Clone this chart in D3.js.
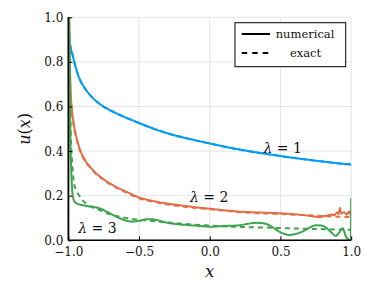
<!DOCTYPE html>
<html><head><meta charset="utf-8">
<script src="https://cdn.jsdelivr.net/npm/d3@7"></script>
<style>body{margin:0;background:#fff}svg{display:block}text{font-family:"DejaVu Serif",serif}</style>
</head><body><svg id="c" width="374" height="289"></svg>
<script>
const xTicks = [-1, -0.5, 0, 0.5, 1];
const yTicks = [0, 0.2, 0.4, 0.6, 0.8, 1.0];
const xTickLabels = ["\u22121.0", "\u22120.5", "0.0", "0.5", "1.0"];
const yTickLabels = ["0.0", "0.2", "0.4", "0.6", "0.8", "1.0"];
const legendLabels = ["numerical", "exact"];
const seriesLabels = ["\u03bb = 1", "\u03bb = 2", "\u03bb = 3"];

const num1 = [[-1,1.0],[-0.995,0.93],[-0.99,0.89],[-0.98,0.855],[-0.969,0.83],[-0.95,0.78],[-0.922,0.726],[-0.875,0.674],[-0.83,0.64],[-0.78,0.612],[-0.686,0.577],[-0.6,0.552],[-0.5,0.526],[-0.4,0.501],[-0.3,0.48],[-0.2,0.463],[-0.1,0.448],[0,0.434],[0.1,0.421],[0.2,0.408],[0.3,0.397],[0.4,0.387],[0.5,0.378],[0.6,0.369],[0.7,0.361],[0.8,0.353],[0.9,0.346],[1.0,0.34]];
const exa1 = [[-1,1.0],[-0.995,0.93],[-0.99,0.89],[-0.98,0.855],[-0.969,0.83],[-0.95,0.78],[-0.922,0.726],[-0.875,0.674],[-0.83,0.64],[-0.78,0.612],[-0.686,0.577],[-0.6,0.552],[-0.5,0.526],[-0.4,0.501],[-0.3,0.48],[-0.2,0.463],[-0.1,0.448],[0,0.434],[0.1,0.421],[0.2,0.408],[0.3,0.397],[0.4,0.387],[0.5,0.378],[0.6,0.369],[0.7,0.361],[0.8,0.353],[0.9,0.346],[1.0,0.34]];
const num2 = [[-1,0],[-0.999,1.3],[-0.99,0.8],[-0.981,0.63],[-0.97,0.56],[-0.958,0.505],[-0.94,0.455],[-0.922,0.415],[-0.9,0.38],[-0.875,0.352],[-0.84,0.325],[-0.804,0.3],[-0.76,0.278],[-0.71,0.256],[-0.65,0.235],[-0.592,0.218],[-0.5,0.191],[-0.45,0.183],[-0.4,0.176],[-0.35,0.17],[-0.3,0.165],[-0.25,0.161],[-0.2,0.156],[-0.1,0.148],[0,0.142],[0.1,0.135],[0.2,0.129],[0.3,0.126],[0.4,0.123],[0.5,0.121],[0.55,0.119],[0.6,0.117],[0.65,0.114],[0.7,0.11],[0.75,0.106],[0.78,0.103],[0.8,0.108],[0.83,0.111],[0.86,0.116],[0.88,0.112],[0.9,0.126],[0.91,0.117],[0.92,0.145],[0.93,0.12],[0.95,0.126],[0.97,0.115],[0.985,0.13],[1.0,0.11]];
const exa2 = [[-0.999,1.3],[-0.99,0.78],[-0.981,0.62],[-0.97,0.55],[-0.958,0.5],[-0.94,0.45],[-0.922,0.41],[-0.9,0.376],[-0.875,0.349],[-0.84,0.322],[-0.804,0.297],[-0.76,0.275],[-0.71,0.253],[-0.65,0.232],[-0.592,0.215],[-0.5,0.188],[-0.4,0.173],[-0.3,0.161],[-0.2,0.152],[-0.1,0.145],[0,0.139],[0.1,0.133],[0.2,0.127],[0.3,0.123],[0.4,0.12],[0.5,0.118],[0.6,0.115],[0.7,0.112],[0.8,0.109],[0.9,0.106],[1.0,0.104]];
const num3 = [[-1,0],[-0.999,1.3],[-0.995,1.0],[-0.985,0.45],[-0.975,0.25],[-0.969,0.2],[-0.955,0.172],[-0.93,0.162],[-0.898,0.157],[-0.86,0.153],[-0.828,0.15],[-0.8,0.147],[-0.76,0.138],[-0.729,0.128],[-0.68,0.112],[-0.635,0.098],[-0.59,0.088],[-0.54,0.084],[-0.49,0.088],[-0.446,0.094],[-0.41,0.094],[-0.375,0.091],[-0.329,0.083],[-0.28,0.076],[-0.21,0.071],[-0.14,0.068],[-0.07,0.064],[0,0.061],[0.07,0.063],[0.14,0.065],[0.213,0.068],[0.27,0.074],[0.326,0.079],[0.38,0.076],[0.42,0.068],[0.46,0.052],[0.491,0.039],[0.53,0.028],[0.562,0.024],[0.6,0.027],[0.656,0.039],[0.7,0.055],[0.75,0.068],[0.79,0.066],[0.82,0.058],[0.86,0.035],[0.89,0.019],[0.915,0.035],[0.94,0.054],[0.963,0.016],[0.985,0.002],[0.997,0.0],[1.0,0.19]];
const exa3 = [[-0.999,1.3],[-0.985,0.55],[-0.97,0.32],[-0.958,0.25],[-0.94,0.22],[-0.922,0.2],[-0.9,0.18],[-0.875,0.166],[-0.83,0.148],[-0.78,0.136],[-0.72,0.12],[-0.64,0.106],[-0.55,0.096],[-0.45,0.089],[-0.35,0.083],[-0.25,0.077],[-0.15,0.072],[0,0.066],[0.2,0.06],[0.4,0.057],[0.6,0.053],[0.8,0.05],[0.95,0.048],[1.0,0.047]];

const colors = ["#009AFA", "#E36F47", "#3EA44E"];

const svg = d3.select("#c");
const L = 68.3, R = 351.2, T = 17.3, B = 240.3;
const x = d3.scaleLinear().domain([-1, 1]).range([L, R]);
const y = d3.scaleLinear().domain([0, 1]).range([B, T]);

// grid
const g = svg.append("g");
g.selectAll(".gx").data(xTicks).enter().append("line")
  .attr("x1", d => x(d)).attr("x2", d => x(d)).attr("y1", T).attr("y2", B)
  .attr("stroke", "#e5e5e5").attr("stroke-width", 1);
g.selectAll(".gy").data(yTicks).enter().append("line")
  .attr("y1", d => y(d)).attr("y2", d => y(d)).attr("x1", L).attr("x2", R)
  .attr("stroke", "#e5e5e5").attr("stroke-width", 1);

svg.append("clipPath").attr("id", "clip").append("rect")
  .attr("x", L).attr("y", T).attr("width", R - L).attr("height", B - T);

const lineSmooth = d3.line().x(d => x(d[0])).y(d => y(d[1])).curve(d3.curveMonotoneX);
const lineRaw = d3.line().x(d => x(d[0])).y(d => y(d[1]));
const plot = svg.append("g").attr("clip-path", "url(#clip)");
const series = [[num1, exa1], [num2, exa2], [num3, exa3]];
series.forEach((s, i) => {
  plot.append("path").attr("d", (i === 1 ? lineRaw : lineSmooth)(s[0])).attr("fill", "none")
    .attr("stroke", colors[i]).attr("stroke-width", 2).attr("stroke-linejoin", "round");
  plot.append("path").attr("d", lineSmooth(s[1])).attr("fill", "none")
    .attr("stroke", colors[i]).attr("stroke-width", 2).attr("stroke-dasharray", "5,4");
});

// axes
const xAxis = d3.axisBottom(x).tickValues(xTicks).tickSize(-4).tickPadding(8)
  .tickFormat((d, i) => xTickLabels[i]);
const yAxis = d3.axisLeft(y).tickValues(yTicks).tickSize(-4).tickPadding(8)
  .tickFormat((d, i) => yTickLabels[i]);
const ax = svg.append("g").attr("transform", `translate(0,${B})`).call(xAxis);
const ay = svg.append("g").attr("transform", `translate(${L},0)`).call(yAxis);
[ax, ay].forEach(a => {
  a.select(".domain").attr("stroke", "#000").attr("stroke-width", 1.6);
  a.selectAll(".tick line").attr("stroke", "#000").attr("stroke-width", 1);
  a.selectAll(".tick text").attr("font-family", "DejaVu Serif").attr("font-size", 12).attr("fill", "#111");
});
ay.select(".domain").attr("d", `M0,${B}V${T}`);
ax.select(".domain").attr("d", `M${L},0H${R}`);
ax.selectAll(".tick text").attr("dy", null).attr("y", 16);
ay.selectAll(".tick text").attr("x", -5).attr("dy", null).attr("y", 4);

// axis labels
svg.append("text").attr("x", x(0)).attr("y", 277).attr("text-anchor", "middle")
  .attr("font-size", 16).attr("font-style", "italic").attr("fill", "#111").text("x");
svg.append("text").attr("transform", `translate(30,${(T + B) / 2}) rotate(-90)`)
  .attr("text-anchor", "middle").attr("font-size", 16).attr("fill", "#111")
  .html('<tspan font-style="italic">u</tspan>(<tspan font-style="italic">x</tspan>)');

// series labels
const lab = [[x(0.38), 153], [x(-0.14), 202], [x(-0.93), 233]];
seriesLabels.forEach((t, i) => {
  const parts = t.split(" = ");
  svg.append("text").attr("x", lab[i][0]).attr("y", lab[i][1]).attr("font-size", 14).attr("fill", "#111")
    .html(`<tspan font-style="italic">${parts[0]}</tspan> = ${parts[1]}`);
});

// legend
const lg = svg.append("g");
lg.append("rect").attr("x", 235).attr("y", 22.7).attr("width", 110.7).attr("height", 44)
  .attr("fill", "#fff").attr("stroke", "#000").attr("stroke-width", 1);
lg.append("line").attr("x1", 241.7).attr("x2", 270).attr("y1", 34).attr("y2", 34)
  .attr("stroke", "#000").attr("stroke-width", 2);
lg.append("line").attr("x1", 241.7).attr("x2", 270).attr("y1", 53).attr("y2", 53)
  .attr("stroke", "#000").attr("stroke-width", 2).attr("stroke-dasharray", "5.5,5");
lg.append("text").attr("x", 275.7).attr("y", 38).attr("font-size", 11.5).attr("fill", "#111").text(legendLabels[0]);
lg.append("text").attr("x", 305.5).attr("y", 57).attr("text-anchor", "middle").attr("font-size", 11.5).attr("fill", "#111").text(legendLabels[1]);
</script></body></html>
